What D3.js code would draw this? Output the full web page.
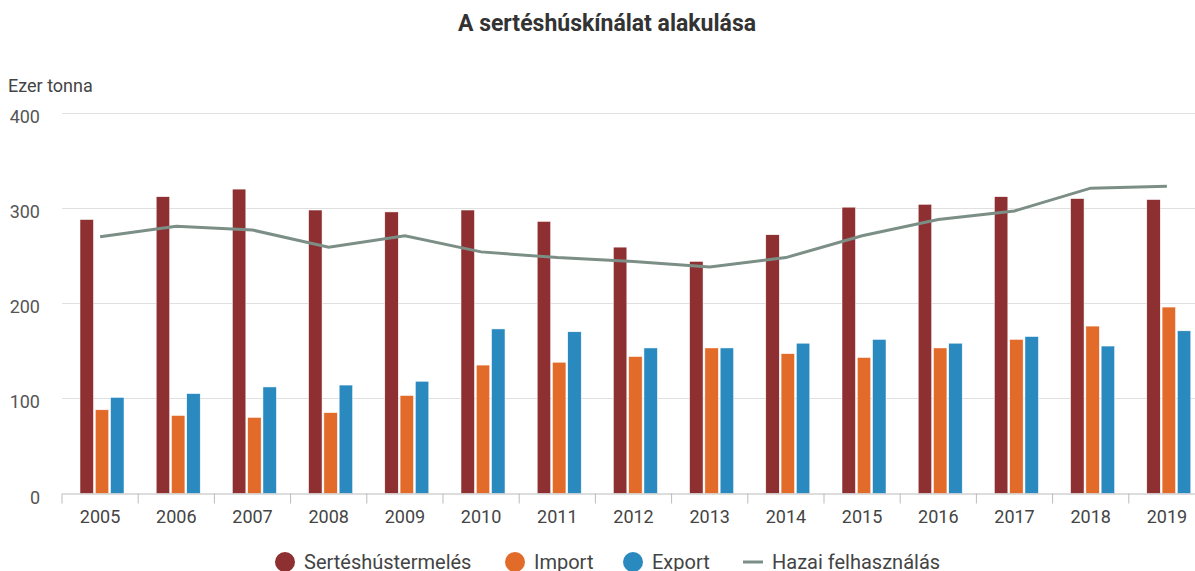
<!DOCTYPE html>
<html>
<head>
<meta charset="utf-8">
<script src="https://cdn.jsdelivr.net/npm/d3@7"></script>
<style>
  body { margin: 0; background: #fff; overflow: hidden; }
  svg { font-family: Roboto, "Noto Sans", sans-serif; }
</style>
</head>
<body>
<div id="chartBox"></div>
<script>
// data (ezer tonna)
var years = ['2005','2006','2007','2008','2009','2010','2011','2012','2013','2014','2015','2016','2017','2018','2019'];
var termeles = [288, 312, 320, 298, 296, 298, 286, 259, 244, 272, 301, 304, 312, 310, 309];
var importVals = [88, 82, 80, 85, 103, 135, 138, 144, 153, 147, 143, 153, 162, 176, 196];
var exportVals = [101, 105, 112, 114, 118, 173, 170, 153, 153, 158, 162, 158, 165, 155, 171];
var hazai = [270, 281, 277, 259, 271, 254, 248, 244, 238, 248, 271, 288, 297, 321, 323];
var yTicks = [0, 100, 200, 300, 400];

var seriesNames = ['Sertéshústermelés', 'Import', 'Export'];
var colors = ['#8e3031', '#e26b2a', '#2a8ac0'];
var lineColor = '#7c8f86';

var width = 1195, height = 571;
var plotLeft = 62, plotRight = 1205, plotTop = 113, plotBottom = 493.5;

var svg = d3.select('#chartBox').append('svg')
    .attr('width', width)
    .attr('height', height);

svg.append('text')
    .text('A sertéshúskínálat alakulása')
    .attr('x', 607)
    .attr('y', 31)
    .attr('text-anchor', 'middle')
    .attr('fill', '#333')
    .style('font-weight', 'bold')
    .style('font-size', '23px');

svg.append('text')
    .text('Ezer tonna')
    .attr('x', 8)
    .attr('y', 92)
    .attr('fill', '#444')
    .style('font-size', '18px');

var x = d3.scaleBand()
    .domain(years)
    .range([plotLeft, plotRight]);

var x1 = d3.scaleBand()
    .domain([0, 1, 2])
    .range([18, 62])
    .paddingInner(0.12);

var y = d3.scaleLinear()
    .domain([0, 400])
    .range([plotBottom, plotTop]);

// grid
svg.append('g')
    .selectAll('line')
    .data(yTicks.filter(function(d) { return d > 0; }))
    .enter()
    .append('line')
    .attr('x1', plotLeft)
    .attr('x2', width)
    .attr('y1', function(d) { return Math.round(y(d)) + 0.5; })
    .attr('y2', function(d) { return Math.round(y(d)) + 0.5; })
    .attr('stroke', '#e0e0e0')
    .attr('stroke-width', 1);

// y labels
svg.append('g')
    .selectAll('text')
    .data(yTicks)
    .enter()
    .append('text')
    .text(function(d) { return d; })
    .attr('x', 40)
    .attr('y', function(d) { return y(d) + 10; })
    .attr('text-anchor', 'end')
    .attr('fill', '#555')
    .style('font-size', '18px');

// bars
var series = [termeles, importVals, exportVals];
var groups = svg.append('g')
    .selectAll('g')
    .data(years)
    .enter()
    .append('g')
    .attr('transform', function(d) { return 'translate(' + x(d) + ',0)'; });

groups.selectAll('rect')
    .data(function(d, i) { return series.map(function(s, k) { return { k: k, v: s[i] }; }); })
    .enter()
    .append('rect')
    .attr('x', function(d) { return x1(d.k); })
    .attr('width', x1.bandwidth())
    .attr('y', function(d) { return y(d.v); })
    .attr('height', function(d) { return y(0) - y(d.v); })
    .attr('fill', function(d) { return colors[d.k]; })
    .attr('stroke', '#fff')
    .attr('stroke-width', 0.5);

// x axis
var xAxis = d3.axisBottom(x).tickSize(10).tickSizeOuter(0);
var ax = svg.append('g')
    .attr('transform', 'translate(0,' + plotBottom + ')')
    .call(xAxis);
ax.select('.domain').attr('stroke', '#bbb');
ax.selectAll('.tick line')
    .attr('stroke', '#bbb')
    .attr('transform', 'translate(' + (-x.bandwidth() / 2) + ',0)');
ax.selectAll('.tick text')
    .attr('y', 17)
    .attr('fill', '#444')
    .style('font-size', '18px')
    .style('font-family', 'Roboto, sans-serif');

// line
var line = d3.line()
    .x(function(d, i) { return x(years[i]) + x.bandwidth() / 2; })
    .y(function(d) { return y(d); });

svg.append('path')
    .datum(hazai)
    .attr('d', line)
    .attr('fill', 'none')
    .attr('stroke', lineColor)
    .attr('stroke-width', 3);

// legend
var legend = svg.append('g').attr('transform', 'translate(0,562)');
var legendX = [285, 515, 633];
seriesNames.forEach(function(n, i) {
    legend.append('circle')
        .attr('cx', legendX[i])
        .attr('cy', 0)
        .attr('r', 10)
        .attr('fill', colors[i]);
    legend.append('text')
        .text(n)
        .attr('x', legendX[i] + 19)
        .attr('y', 7)
        .attr('fill', '#444')
        .style('font-size', '20px');
});
legend.append('line')
    .attr('x1', 743)
    .attr('x2', 763)
    .attr('y1', 0)
    .attr('y2', 0)
    .attr('stroke', lineColor)
    .attr('stroke-width', 3);
legend.append('text')
    .text('Hazai felhasználás')
    .attr('x', 772)
    .attr('y', 7)
    .attr('fill', '#444')
    .style('font-size', '20px');
</script>
</body>
</html>
